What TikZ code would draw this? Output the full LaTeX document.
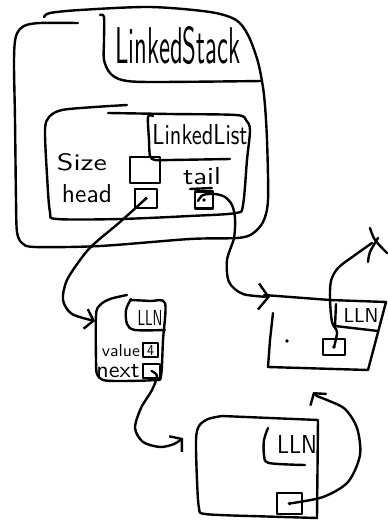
\documentclass[tikz,border=0pt]{standalone}
\usepackage{graphicx}
\usetikzlibrary{arrows.meta}
\newcommand{\hwtext}[3]{\resizebox{#1pt}{#2pt}{\sffamily #3}}
\tikzset{
  pen/.style={line width=2.4pt, line cap=round, line join=round},
  lbl/.style={inner sep=0pt, outer sep=0pt},
  slot/.style={draw, pen, inner sep=0pt, minimum width=#1},
  barb/.style={-{Straight Barb[length=8pt,width=20pt]}},
  bigbarb/.style={-{Straight Barb[length=10pt,width=26pt]}},
}
\begin{document}
\begin{tikzpicture}[x=1pt,y=-1pt]
\useasboundingbox (0,0) rectangle (388,525);

% ---------- LinkedStack outer box ----------
\draw[pen] plot[smooth,tension=0.5] coordinates {(78,23) (40,23) (24,26) (16,36) (14,60) (15,120) (16,200) (17,232) (22,243) (35,247) (100,246) (190,239) (237,238) (252,234) (263,222) (268,200) (267,140) (264,95) (258,62) (248,35) (236,20) (210,12) (150,7) (80,10) (50,13) (44,17)};
\draw[pen] plot[smooth,tension=0.5] coordinates {(100,15) (104,17) (104,40) (104,60) (110,73) (122,80) (150,82) (262,81)};
\node[lbl] (stacklbl) at (178,46) {\hwtext{125}{37}{LinkedStack}};

% ---------- LinkedList inner box ----------
\draw[pen] plot[smooth,tension=0.5] coordinates {(127,105) (95,107) (62,110) (49,117) (45,130) (47,175) (50,212) (57,219) (120,219) (190,216) (236,213) (243,205) (247,160) (250,130) (246,120) (236,115) (170,114) (108,113)};
\draw[pen] plot[smooth,tension=0.5] coordinates {(153,116) (148,117) (149,140) (150,156) (155,160) (170,160) (230,159)};
\node[lbl] (listlbl) at (200,135) {\hwtext{95}{20}{LinkedList}};

\node[lbl] (sizelbl) at (82,162) {\hwtext{50}{17}{Size}};
\node[lbl] (headlbl) at (87,194) {\hwtext{50}{18}{head}};
\node[lbl] (taillbl) at (202,176) {\hwtext{38}{17}{tail}};

\node[slot=30pt, minimum height=26pt] (sizebox) at (145,170) {};
\node[slot=22pt, minimum height=19pt] (headbox) at (146,198.5) {};
\node[slot=18pt, minimum height=17pt] (tailbox) at (204,200) {};
\draw[pen] (190,189) -- (212,188);
\fill (headbox.center) circle (1.8);
\fill (tailbox.center) circle (1.8);

% ---------- LLN box 1 ----------
\draw[pen] plot[smooth,tension=0.5] coordinates {(127,295) (110,299) (100,305) (96,315) (96,360) (97,374) (103,380) (120,381) (155,380) (161,376) (163,340) (165,303) (150,301) (130,300)};
\draw[pen] plot[smooth,tension=0.5] coordinates {(131,299) (126,310) (127,324) (135,330) (165,330)};
\node[lbl] (lln1) at (150,318) {\hwtext{25}{15}{LLN}};
\node[lbl] (vallbl) at (121,351) {\hwtext{38}{12}{value}};
\node[lbl] (nextlbl) at (118,371) {\hwtext{43}{13}{next}};
\node[slot=15pt, minimum height=14pt] (valbox) at (150.5,350) {};
\node[lbl] (four) at (150.5,350) {\hwtext{7}{10}{4}};
\node[slot=17pt, minimum height=14pt] (nextbox) at (151.5,371) {};

% ---------- LLN box 2 ----------
\draw[pen] (264,295) -- (330,300) -- (386,302) -- (368,370) -- (268,367) -- (270,340) -- (273,313);
\draw[pen] (336,304) -- (335,326) -- (378,331);
\node[lbl] (lln2) at (361,315) {\hwtext{35}{14}{LLN}};
\fill (287,341) circle (1.8);
\node[slot=22pt, minimum height=16pt] (slottwo) at (334,347) {};
\fill (slottwo.center) circle (1.8);

% ---------- LLN box 3 ----------
\draw[pen] plot[smooth,tension=0.5] coordinates {(222,416) (208,419) (199,426) (196,440) (197,480) (199,508) (205,514) (250,516)} -- (317,518) -- (318,420) -- (222,416);
\draw[pen] plot[smooth,tension=0.5] coordinates {(268,428) (264,440) (264,455) (269,463) (305,465)};
\node[lbl] (lln3) at (297,444) {\hwtext{40}{18}{LLN}};
\node[slot=25pt, minimum height=21pt] (slotthree) at (289.5,503.5) {};
\fill (slotthree.center) circle (1.8);

% ---------- connectors ----------
\coordinate (tipone) at (95,321);
\coordinate (tiptwo) at (270,297);
\coordinate (tipthree) at (183,438);
\coordinate (tipfour) at (313,392);
\coordinate (nullend) at (372,243);

\draw[pen,barb] plot[smooth,tension=0.5] coordinates {(headbox.center) (120,222) (95,243) (83,256) (67,280) (63,300) (72,314) (tipone)};
\draw[pen,bigbarb] plot[smooth,tension=0.5] coordinates {(198,201) (203,195) (215,194) (225,197) (232,205) (235,218) (234,238) (227,260) (229,282) (243,294) (tiptwo)};
\draw[pen,barb] plot[smooth,tension=0.5] coordinates {(nextbox.center) (157,376) (152,390) (141,408) (135,428) (143,442) (160,447) (174,444) (tipthree)};
\draw[pen,barb] plot[smooth,tension=0.5] coordinates {(slotthree.center) (323,497) (348,482) (360,455) (357,428) (345,409) (327,400) (317,396) (tipfour)};
\draw[pen] plot[smooth,tension=0.5] coordinates {(slottwo.center) (337,332) (332,322) (330,300) (331,281) (338,268) (355,255) (nullend)};
\draw[pen] plot[smooth,tension=0.5] coordinates {(370,228) (375,240) (387,253)};
\draw[pen] plot[smooth,tension=0.5] coordinates {(368,262) (370,252) (378,238)};
\end{tikzpicture}
\end{document}
